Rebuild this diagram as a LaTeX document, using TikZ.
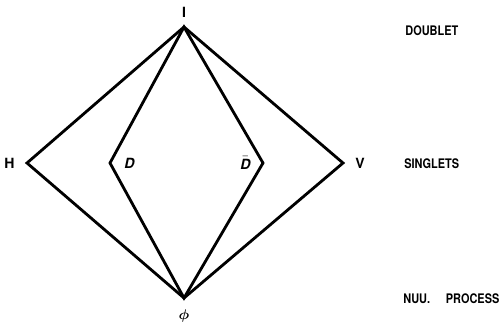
\documentclass[tikz,border=0pt]{standalone}
\usepackage{amsmath,amssymb}
\usepackage{fontspec}
\setmainfont{TeX Gyre Heros}
\usepackage{tikz}
\usetikzlibrary{positioning}

\tikzset{
  edge/.style={line width=1.6pt, line join=miter},
  vlabel/.style={inner sep=0pt, font=\fontsize{8}{9}\selectfont\bfseries},
  level/.style={inner sep=0pt, anchor=west, font=\fontsize{7.5}{8}\selectfont\bfseries}
}
\newcommand{\narrow}[1]{\scalebox{0.83}[1]{#1}}

\begin{document}
\begin{tikzpicture}[scale=1.0]
  \useasboundingbox (0,0) rectangle (10,6.5);

  % vertices
  \coordinate (top) at (3.68,5.96);
  \coordinate (bot) at (3.68,0.54);
  \coordinate (h) at (0.54,3.24);
  \coordinate (d) at (2.20,3.24);
  \coordinate (dbar) at (5.26,3.24);
  \coordinate (v) at (6.86,3.24);

  % outer and inner diamonds
  \draw[edge] (top) -- (h) -- (bot) -- (v) -- cycle;
  \draw[edge] (top) -- (d) -- (bot) -- (dbar) -- cycle;

  % vertex labels
  \node[vlabel, above=0.18cm of top] (lbltop) {I};
  \node[vlabel, below=0.22cm of bot] (lblbot) {$\boldsymbol{\phi}$};
  \node[vlabel, left=0.24cm of h] (lblh) {H};
  \node[vlabel, right=0.28cm of d] (lbld) {\textit{D}};
  \node[vlabel, left=0.24cm of dbar] (lbldbar) {$\bar{\mbox{\textit{D}}}$};
  \node[vlabel, right=0.24cm of v] (lblv) {V};

  % levels
  \node[level] (doublet) at (8.10,5.88) {\narrow{DOUBLET}};
  \node[level] (singlets) at (8.08,3.22) {\narrow{SINGLETS}};
  \node[level] (null) at (8.06,0.52) {\narrow{NUU.\hspace{1.45em}PROCESS}};
\end{tikzpicture}
\end{document}
